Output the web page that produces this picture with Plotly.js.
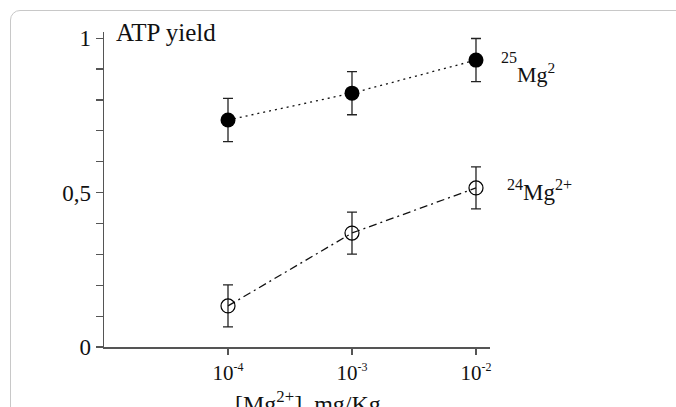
<!DOCTYPE html>
<html>
<head>
<meta charset="utf-8">
<script src="https://cdn.plot.ly/plotly-3.0.1.min.js"></script>
<style>
html,body{margin:0;padding:0;overflow:hidden;background:#fff;}
#wrap{position:relative;width:676px;height:407px;overflow:hidden;}
#chart{position:absolute;left:0;top:0;width:676px;height:407px;}
#frame{position:absolute;left:10px;top:10px;width:720px;height:460px;border:1.5px solid #c8c8c8;border-radius:10px;pointer-events:none;}
</style>
</head>
<body>
<div id="wrap"><div id="chart"></div><div id="frame"></div></div>
<script>
var concentrations = [1e-4, 1e-3, 1e-2];
var mg25Yield = [0.735, 0.822, 0.929];
var mg25Err = [0.07, 0.07, 0.07];
var mg24Yield = [0.133, 0.369, 0.515];
var mg24Err = [0.068, 0.068, 0.068];
var xTickVals = [1e-4, 1e-3, 1e-2];
var xTickText = ['10<sup><span style="font-size:12px">-4</span></sup>',
                 '10<sup><span style="font-size:12px">-3</span></sup>',
                 '10<sup><span style="font-size:12px">-2</span></sup>'];
var yTickVals = [0, 0.1, 0.2, 0.3, 0.4, 0.5, 0.6, 0.7, 0.8, 0.9, 1];
var yTickText = ['0', '', '', '', '', '0,5', '', '', '', '', '1'];

var serif = 'Liberation Serif, Times New Roman, serif';

var traces = [
  {
    x: concentrations, y: mg25Yield, type: 'scatter', mode: 'lines+markers',
    line: {color: '#111', width: 1.3, dash: '2px,4px'},
    marker: {symbol: 'circle', size: 15, color: '#000'},
    error_y: {type: 'data', array: mg25Err, visible: true, color: '#222', thickness: 1.3, width: 5},
    cliponaxis: false, showlegend: false
  },
  {
    x: concentrations, y: mg24Yield, type: 'scatter', mode: 'lines+markers',
    line: {color: '#111', width: 1.3, dash: '8px,4px,2px,4px'},
    marker: {symbol: 'circle-open', size: 14, color: '#000', line: {color: '#000', width: 1.2}},
    error_y: {type: 'data', array: mg24Err, visible: true, color: '#222', thickness: 1.3, width: 5},
    cliponaxis: false, showlegend: false
  }
];

var layout = {
  width: 676, height: 407,
  margin: {l: 104, r: 186, t: 32, b: 60, pad: 0},
  paper_bgcolor: '#fff', plot_bgcolor: '#fff',
  font: {family: serif, color: '#111'},
  xaxis: {
    type: 'log', range: [-5, -1.887], showgrid: false, zeroline: false,
    showline: true, linecolor: '#555', linewidth: 1.5,
    ticks: 'outside', ticklen: 6, tickcolor: '#555', tickwidth: 1.2,
    tickvals: xTickVals, ticktext: xTickText,
    tickfont: {family: serif, size: 21, color: '#111'}
  },
  yaxis: {
    range: [0, 1.02], showgrid: false, zeroline: false,
    showline: true, linecolor: '#555', linewidth: 1.5,
    ticks: 'outside', ticklen: 7, tickcolor: '#555', tickwidth: 1.2,
    tickvals: yTickVals, ticktext: yTickText,
    tickfont: {family: serif, size: 23, color: '#111'}
  },
  annotations: [
    {xref: 'paper', yref: 'paper', x: (114 - 104) / 386, y: (347 - 32) / 315, xanchor: 'left', yanchor: 'middle',
     text: 'ATP yield', showarrow: false, font: {family: serif, size: 25, color: '#111'}},
    {xref: 'paper', yref: 'paper', x: (499 - 104) / 386, y: (347 - 57) / 315, xanchor: 'left', yanchor: 'middle',
     text: '25', showarrow: false, font: {family: serif, size: 16, color: '#111'}},
    {xref: 'paper', yref: 'paper', x: (515 - 104) / 386, y: (347 - 73) / 315, xanchor: 'left', yanchor: 'middle',
     text: 'Mg<sup>2</sup>', showarrow: false, font: {family: serif, size: 22, color: '#111'}},
    {xref: 'paper', yref: 'paper', x: (505 - 104) / 386, y: (347 - 190) / 315, xanchor: 'left', yanchor: 'middle',
     text: '<sup>24</sup>Mg<sup>2+</sup>', showarrow: false, font: {family: serif, size: 23, color: '#111'}},
    {xref: 'paper', yref: 'paper', x: (308 - 104) / 386, y: (347 - 402) / 315, xanchor: 'center', yanchor: 'middle',
     text: '[Mg<sup>2+</sup>], mg/Kg', showarrow: false, font: {family: serif, size: 24, color: '#111'}}
  ]
};

Plotly.newPlot('chart', traces, layout, {staticPlot: true, displayModeBar: false});
</script>
</body>
</html>
